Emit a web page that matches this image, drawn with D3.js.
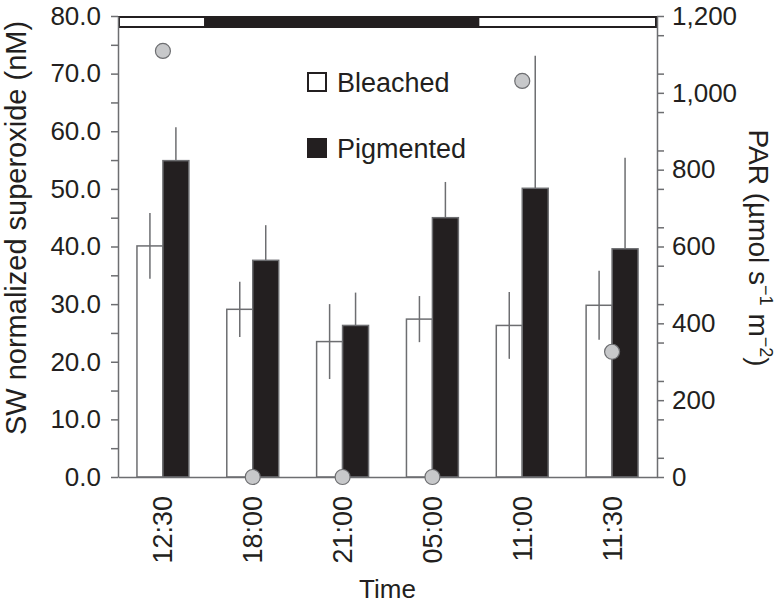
<!DOCTYPE html>
<html>
<head>
<meta charset="utf-8">
<script src="https://cdn.jsdelivr.net/npm/d3@7"></script>
<style>
  body { margin: 0; background: #fff; }
  text { font-family: "Liberation Sans", Arial, sans-serif; fill: #231f20; }
</style>
</head>
<body>
<div id="plot"></div>
<script>
// data
const times = ["12:30", "18:00", "21:00", "05:00", "11:00", "11:30"];
const series = ["Bleached", "Pigmented"];
const bleached = [40.1, 29.1, 23.5, 27.4, 26.3, 29.8];
const bleachedErr = [5.7, 4.8, 6.5, 4.0, 5.8, 6.0];
const pigmented = [54.9, 37.6, 26.3, 45.0, 50.1, 39.6];
const pigmentedErr = [5.8, 6.1, 5.7, 6.2, 23.0, 15.8];
const par = [1109, 0, 0, 0, 1031, 326];
// light / dark periods along the top strip (in sampling-slot units)
const periods = [
  {start: 0, end: 0.98, light: true},
  {start: 0.98, end: 4, light: false},
  {start: 4, end: 6, light: true}
];
const leftTicks = [0, 10, 20, 30, 40, 50, 60, 70, 80];
const rightTicks = [0, 200, 400, 600, 800, 1000, 1200];

const width = 780, height = 607;
const margin = {top: 16, right: 123, bottom: 130, left: 118};

const rows = times.map((t, i) => ({
  time: t,
  par: par[i],
  bars: [
    {key: "Bleached", value: bleached[i], err: bleachedErr[i]},
    {key: "Pigmented", value: pigmented[i], err: pigmentedErr[i]}
  ]
}));

const svg = d3.select("#plot")
  .append("svg")
  .attr("width", width)
  .attr("height", height);

const xScale = d3.scaleBand()
  .domain(times)
  .range([margin.left, width - margin.right])
  .padding(0);

const xInner = d3.scaleBand()
  .domain(series)
  .range([0, xScale.bandwidth()])
  .paddingInner(0)
  .paddingOuter(0.73);

const slotScale = d3.scaleLinear()
  .domain([0, times.length])
  .range([margin.left, width - margin.right]);

const yScale = d3.scaleLinear().domain([0, 80]).range([height - margin.bottom, margin.top]);
const parScale = d3.scaleLinear().domain([0, 1200]).range([height - margin.bottom, margin.top]);

const fills = {Bleached: "#ffffff", Pigmented: "#231f20"};
const axisGrey = "#6d6e71";

// bars
const groups = svg.append("g")
  .selectAll("g")
  .data(rows)
  .join("g")
    .attr("transform", d => `translate(${xScale(d.time)},0)`);

groups.selectAll("rect")
  .data(d => d.bars)
  .join("rect")
    .attr("x", d => xInner(d.key))
    .attr("width", xInner.bandwidth())
    .attr("y", d => yScale(d.value))
    .attr("height", d => yScale(0) - yScale(d.value))
    .attr("fill", d => fills[d.key])
    .attr("stroke", axisGrey)
    .attr("stroke-width", 1.5);

// error bars (drawn on top)
groups.selectAll("line.err")
  .data(d => d.bars)
  .join("line")
    .attr("class", "err")
    .attr("x1", d => xInner(d.key) + xInner.bandwidth() / 2)
    .attr("x2", d => xInner(d.key) + xInner.bandwidth() / 2)
    .attr("y1", d => yScale(d.value + d.err))
    .attr("y2", d => d.key === "Bleached" ? yScale(d.value - d.err) : yScale(d.value))
    .attr("stroke", axisGrey)
    .attr("stroke-width", 1.5);

// top light/dark strip
const stripTop = margin.top, stripH = 12;
svg.append("rect")
  .attr("x", slotScale(0))
  .attr("y", stripTop)
  .attr("width", slotScale(times.length) - slotScale(0))
  .attr("height", stripH)
  .attr("fill", "#231f20");
svg.append("g")
  .selectAll("rect")
  .data(periods.filter(p => p.light))
  .join("rect")
    .attr("x", d => slotScale(d.start) + 2)
    .attr("y", stripTop + 2)
    .attr("width", d => slotScale(d.end) - slotScale(d.start) - 4)
    .attr("height", stripH - 4)
    .attr("fill", "#fff");

// axes
const styleAxis = g => {
  g.select(".domain").attr("stroke", axisGrey).attr("stroke-width", 1.5);
  g.selectAll(".tick line").attr("stroke", axisGrey).attr("stroke-width", 1.5);
  g.selectAll("text").attr("font-size", 26).attr("fill", "#231f20")
    .attr("font-family", "'Liberation Sans', Arial, sans-serif");
};

svg.append("g")
  .attr("transform", `translate(${margin.left},0)`)
  .call(d3.axisLeft(yScale).tickValues(d3.range(5, 80, 10)).tickSize(7).tickFormat("").tickSizeOuter(0))
  .call(g => g.select(".domain").remove())
  .call(styleAxis);
svg.append("g")
  .attr("transform", `translate(${margin.left},0)`)
  .call(d3.axisLeft(yScale).tickValues(leftTicks).tickSize(7).tickPadding(10).tickFormat(d3.format(".1f")).tickSizeOuter(0))
  .call(styleAxis);

svg.append("g")
  .attr("transform", `translate(${width - margin.right},0)`)
  .call(d3.axisRight(parScale).tickValues(d3.range(50, 1200, 100)).tickSize(7).tickFormat("").tickSizeOuter(0))
  .call(g => g.select(".domain").remove())
  .call(styleAxis);
svg.append("g")
  .attr("transform", `translate(${width - margin.right},0)`)
  .call(d3.axisRight(parScale).tickValues(rightTicks).tickSize(7).tickPadding(8).tickFormat(d3.format(",")).tickSizeOuter(0))
  .call(styleAxis);

svg.append("g")
  .attr("transform", `translate(0,${height - margin.bottom})`)
  .call(d3.axisBottom(xScale).tickSize(0).tickPadding(0).tickSizeOuter(0))
  .call(styleAxis)
  .call(g => g.selectAll("text")
    .attr("font-size", 27)
    .attr("text-anchor", "end")
    .attr("dy", "0.35em")
    .attr("transform", "translate(0,19) rotate(-90)"));

// PAR points
svg.append("g")
  .selectAll("circle")
  .data(rows)
  .join("circle")
    .attr("cx", d => xScale(d.time) + xScale.bandwidth() / 2)
    .attr("cy", d => parScale(d.par))
    .attr("r", 7.5)
    .attr("fill", "#c7c8ca")
    .attr("stroke", axisGrey)
    .attr("stroke-width", 1.2);

// legend
const legend = svg.append("g")
  .selectAll("g")
  .data(series)
  .join("g")
    .attr("transform", (d, i) => `translate(307,${72 + i * 66})`);
legend.append("rect")
  .attr("x", 1).attr("y", 1)
  .attr("width", 18).attr("height", 18)
  .attr("fill", d => fills[d])
  .attr("stroke", "#231f20")
  .attr("stroke-width", 2);
legend.append("text")
  .attr("x", 30)
  .attr("y", 20)
  .attr("font-size", 27)
  .text(d => d);

// axis titles
svg.append("text")
  .attr("transform", "translate(26,228) rotate(-90)")
  .attr("text-anchor", "middle")
  .attr("font-size", 29)
  .text("SW normalized superoxide (nM)");

const parTitle = svg.append("text")
  .attr("font-size", 28);
parTitle.append("tspan").text("PAR (\u00b5mol s");
parTitle.append("tspan").attr("dy", -11).attr("font-size", 18).text("\u22121");
parTitle.append("tspan").attr("dy", 11).text(" m");
parTitle.append("tspan").attr("dy", -11).attr("font-size", 18).text("\u22122");
parTitle.append("tspan").attr("dy", 11).text(")");
const parLen = parTitle.node().getComputedTextLength();
parTitle.attr("transform", `translate(749,${248 - parLen / 2}) rotate(90)`);

svg.append("text")
  .attr("x", (margin.left + width - margin.right) / 2)
  .attr("y", 598)
  .attr("text-anchor", "middle")
  .attr("font-size", 26)
  .text("Time");
</script>
</body>
</html>
